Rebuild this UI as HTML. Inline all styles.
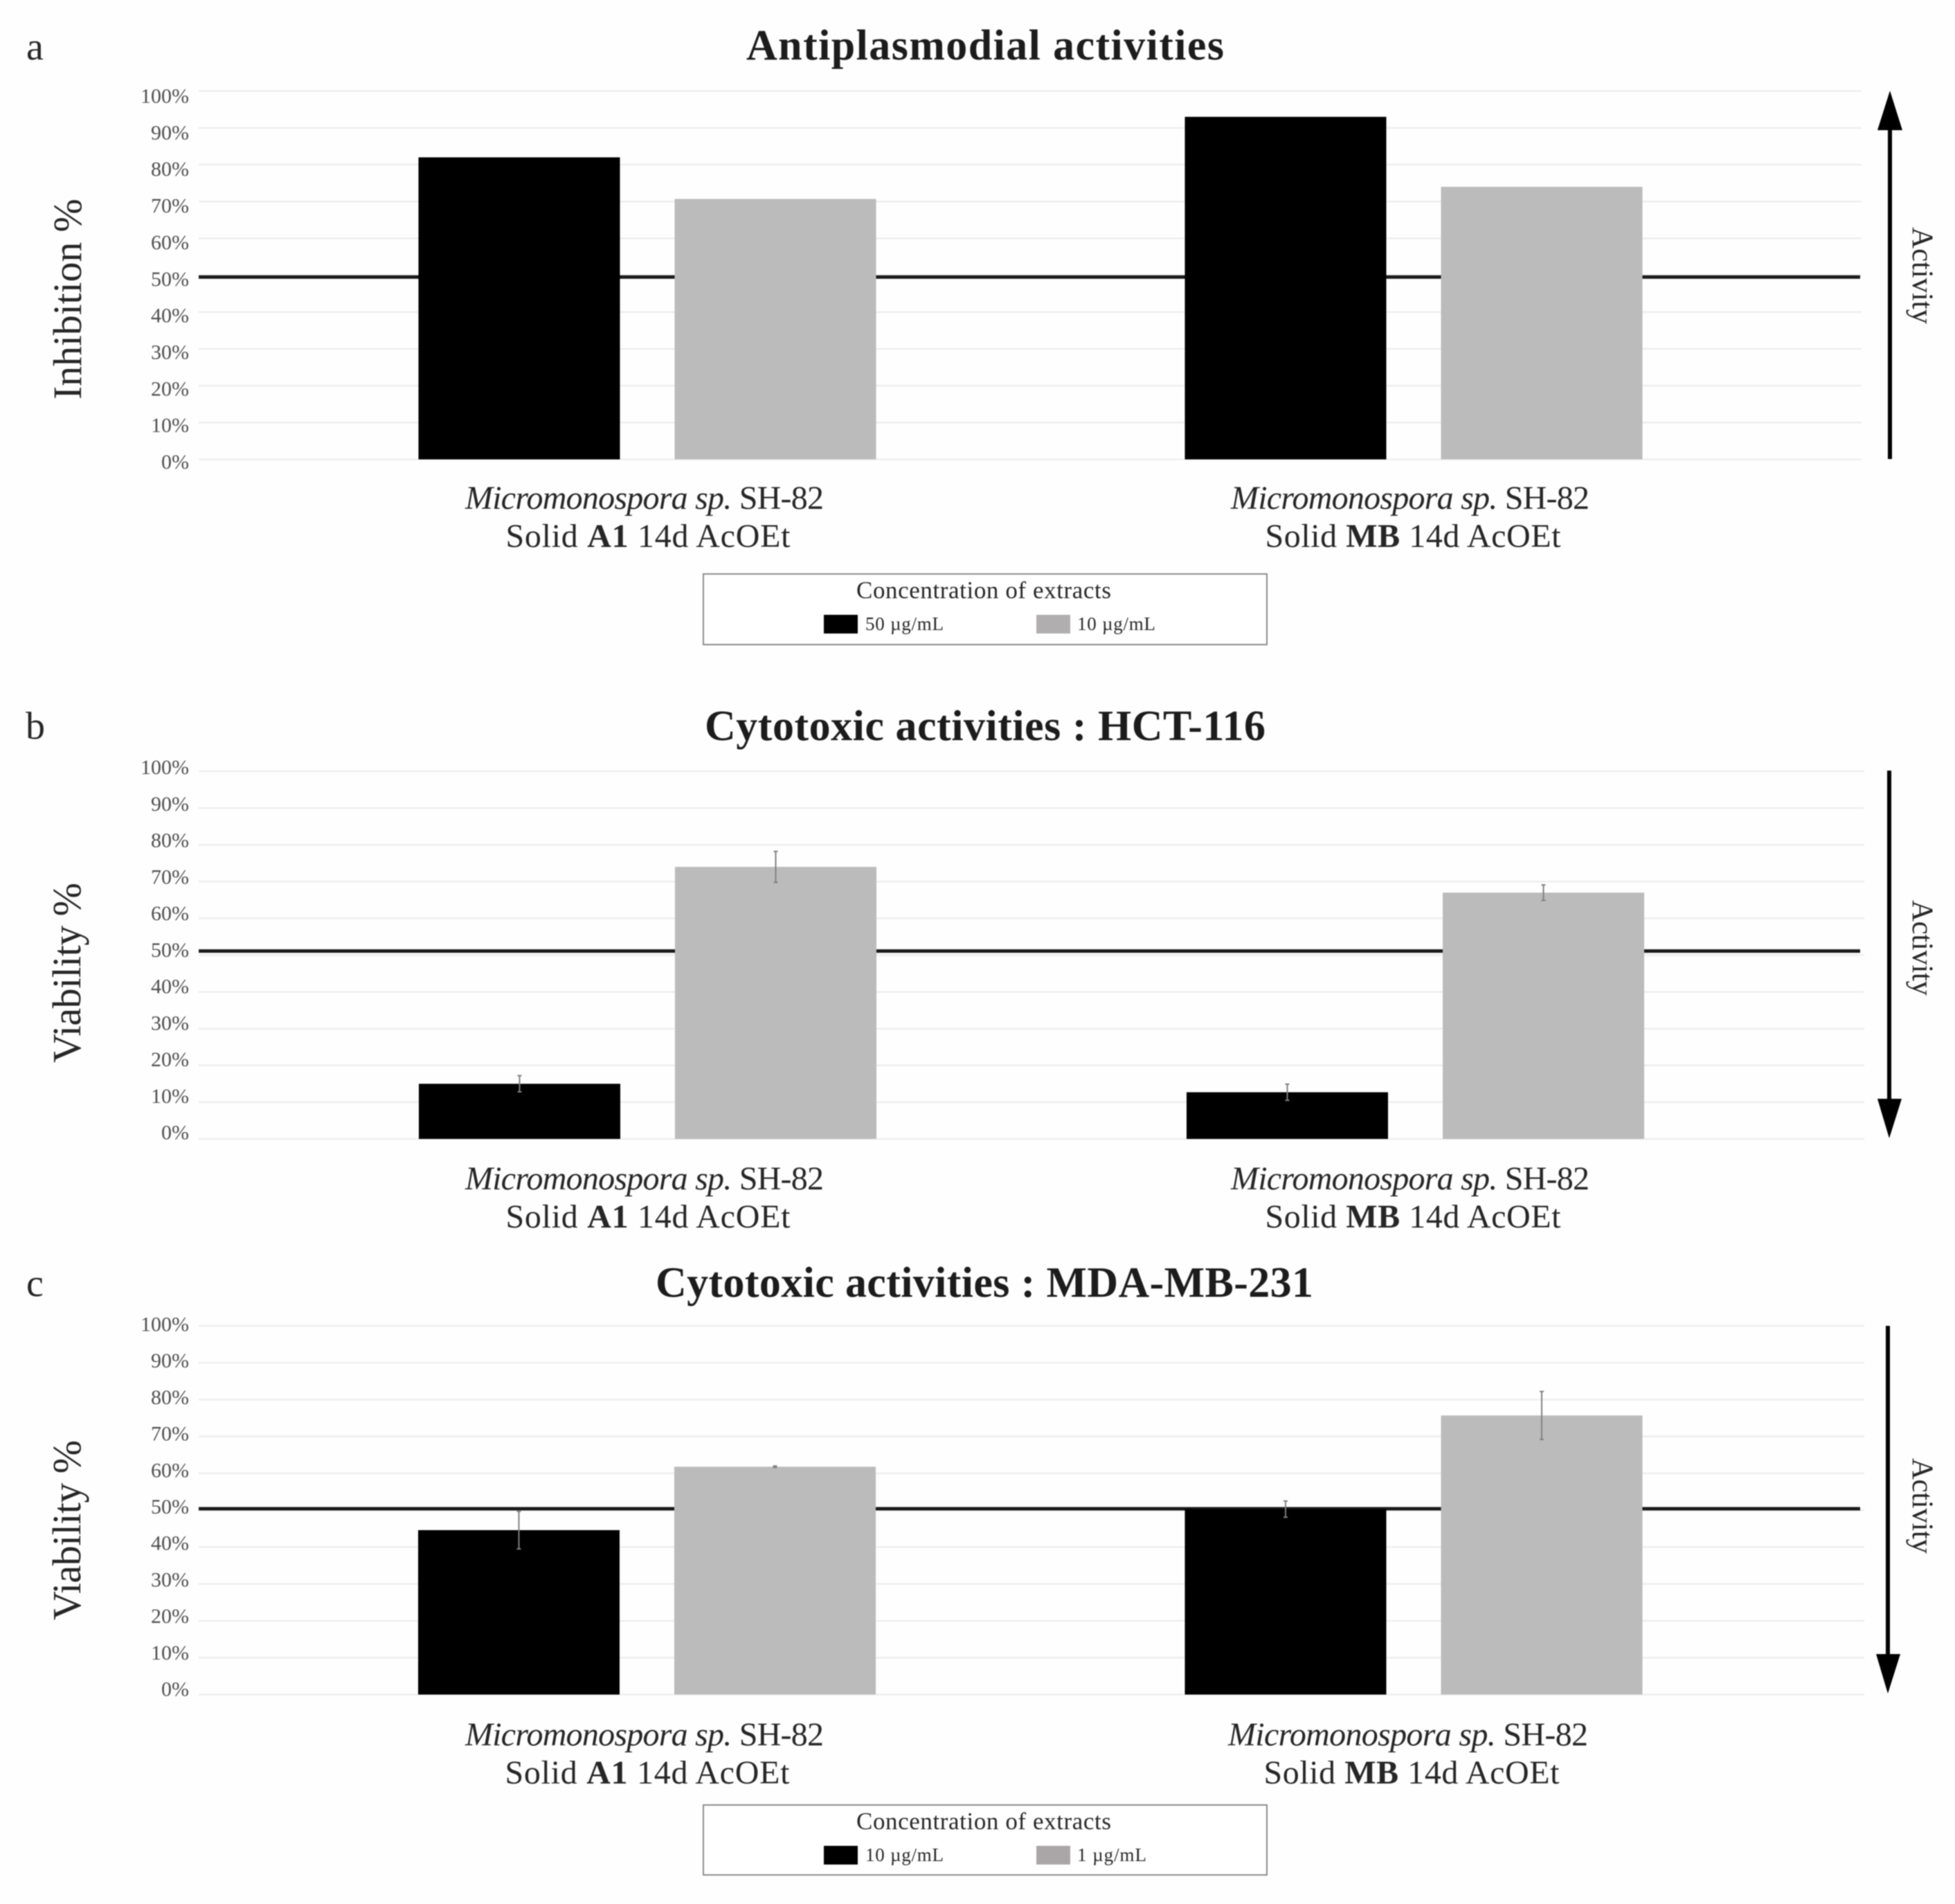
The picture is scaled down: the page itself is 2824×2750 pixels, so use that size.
<!DOCTYPE html>
<html lang="en">
<head>
<meta charset="utf-8">
<title>Antiplasmodial and cytotoxic activities</title>
<style>
html,body{margin:0;padding:0;background:#fefefe;}
body{width:2824px;height:2750px;overflow:hidden;}
svg{display:block;filter:blur(0.8px);}
text{font-family:"Liberation Serif","DejaVu Serif",serif;fill:#262626;}
.title{font-size:62px;font-weight:bold;text-anchor:middle;fill:#1c1c1c;}
.letter{font-size:56px;}
.ytitle{font-size:58px;text-anchor:middle;}
.xlabel{font-size:48px;text-anchor:middle;}
.activity{font-size:43px;text-anchor:middle;}
.legend-title{font-size:35px;text-anchor:middle;}
.legend-label{font-size:27px;}
.tick{font-size:30px;text-anchor:end;fill:#4d4d4d;}
</style>
</head>
<body>
<svg id="figure" xmlns="http://www.w3.org/2000/svg" width="2824" height="2750" viewBox="0 0 2824 2750">
  <rect width="2824" height="2750" fill="#fefefe"/>
  <g id="panel-a"></g>
  <g id="panel-b"></g>
  <g id="panel-c"></g>

  <text class="letter" x="38" y="86">a</text>
  <text class="letter" x="37" y="1067">b</text>
  <text class="letter" x="38" y="1872">c</text>

  <text class="title" x="1423" y="86" textLength="690">Antiplasmodial activities</text>
  <text class="title" x="1423" y="1069" textLength="810">Cytotoxic activities : HCT-116</text>
  <text class="title" x="1422" y="1873" textLength="950">Cytotoxic activities : MDA-MB-231</text>

  <text class="ytitle" transform="translate(117,432) rotate(-90)" textLength="290">Inhibition %</text>
  <text class="ytitle" transform="translate(116,1405) rotate(-90)" textLength="260">Viability %</text>
  <text class="ytitle" transform="translate(116,2210) rotate(-90)" textLength="260">Viability %</text>

  <text class="xlabel" x="931" y="735" textLength="518"><tspan font-style="italic">Micromonospora sp.</tspan> SH-82</text>
  <text class="xlabel" x="936" y="790" textLength="411">Solid <tspan font-weight="bold">A1</tspan> 14d AcOEt</text>
  <text class="xlabel" x="2037" y="735" textLength="518"><tspan font-style="italic">Micromonospora sp.</tspan> SH-82</text>
  <text class="xlabel" x="2041" y="790" textLength="427">Solid <tspan font-weight="bold">MB</tspan> 14d AcOEt</text>

  <text class="xlabel" x="931" y="1718" textLength="518"><tspan font-style="italic">Micromonospora sp.</tspan> SH-82</text>
  <text class="xlabel" x="936" y="1773" textLength="411">Solid <tspan font-weight="bold">A1</tspan> 14d AcOEt</text>
  <text class="xlabel" x="2037" y="1718" textLength="518"><tspan font-style="italic">Micromonospora sp.</tspan> SH-82</text>
  <text class="xlabel" x="2041" y="1773" textLength="427">Solid <tspan font-weight="bold">MB</tspan> 14d AcOEt</text>

  <text class="xlabel" x="931" y="2521" textLength="518"><tspan font-style="italic">Micromonospora sp.</tspan> SH-82</text>
  <text class="xlabel" x="935" y="2576" textLength="411">Solid <tspan font-weight="bold">A1</tspan> 14d AcOEt</text>
  <text class="xlabel" x="2034" y="2521" textLength="520"><tspan font-style="italic">Micromonospora sp.</tspan> SH-82</text>
  <text class="xlabel" x="2039" y="2576" textLength="427">Solid <tspan font-weight="bold">MB</tspan> 14d AcOEt</text>

  <g>
    <rect x="2727" y="185" width="6" height="478" fill="#000"/>
    <polygon points="2730,131 2748,188 2712,188" fill="#000"/>
  </g>
  <g>
    <rect x="2726" y="1113" width="6" height="478" fill="#000"/>
    <polygon points="2712,1587 2747,1587 2729,1644" fill="#000"/>
  </g>
  <g>
    <rect x="2724" y="1915" width="6" height="478" fill="#000"/>
    <polygon points="2710,2389 2745,2389 2727,2446" fill="#000"/>
  </g>
  <text class="activity" transform="translate(2763,398) rotate(90)" textLength="140">Activity</text>
  <text class="activity" transform="translate(2763,1369) rotate(90)" textLength="138">Activity</text>
  <text class="activity" transform="translate(2763,2175) rotate(90)" textLength="138">Activity</text>

  <g>
    <rect x="1016" y="829" width="814" height="102" fill="#fff" stroke="#8a8a8a" stroke-width="2"/>
    <text class="legend-title" x="1421" y="864" textLength="368">Concentration of extracts</text>
    <rect x="1190" y="888" width="49" height="27" fill="#000"/>
    <text class="legend-label" x="1250" y="910" textLength="113">50 µg/mL</text>
    <rect x="1497" y="888" width="49" height="27" fill="#b0aeaf"/>
    <text class="legend-label" x="1556" y="910" textLength="113">10 µg/mL</text>
  </g>
  <g>
    <rect x="1016" y="2607" width="814" height="101" fill="#fff" stroke="#8a8a8a" stroke-width="2"/>
    <text class="legend-title" x="1421" y="2642" textLength="368">Concentration of extracts</text>
    <rect x="1190" y="2666" width="49" height="27" fill="#000"/>
    <text class="legend-label" x="1250" y="2688" textLength="113">10 µg/mL</text>
    <rect x="1497" y="2666" width="49" height="27" fill="#aaa6a8"/>
    <text class="legend-label" x="1556" y="2688" textLength="100">1 µg/mL</text>
  </g>
</svg>
<script>
// Chart values
const categories = ['A1', 'MB'];
const tickValues = [0, 10, 20, 30, 40, 50, 60, 70, 80, 90, 100];
const tickLabels = ['0%', '10%', '20%', '30%', '40%', '50%', '60%', '70%', '80%', '90%', '100%'];

const antiplasmodialHigh = [82, 93];
const antiplasmodialLow = [70.7, 74];
const antiplasmodialThreshold = 49.5;

const hctHigh = [15, 12.7];
const hctLow = [74, 67];
const hctHighError = [2.2, 2.2];
const hctLowError = [4.2, 2.1];
const hctThreshold = 51.1;

const mdaHigh = [44.6, 50.3];
const mdaLow = [61.8, 75.7];
const mdaHighError = [5.1, 2.2];
const mdaLowError = [0.2, 6.5];
const mdaThreshold = 50.4;

const NS = 'http://www.w3.org/2000/svg';

function make(parent, tag, attrs) {
  const node = document.createElementNS(NS, tag);
  Object.keys(attrs).forEach(function (k) { node.setAttribute(k, attrs[k]); });
  parent.appendChild(node);
  return node;
}

function drawPanel(cfg) {
  const root = document.getElementById(cfg.id);
  const yScale = function (v) { return cfg.y0 + (cfg.y100 - cfg.y0) * v / 100; };
  const xScale = function (i) { return cfg.xFirst + cfg.xStep * i; };
  const labelScale = function (v) { return yScale(v) + cfg.tickDy0 + (cfg.tickDy100 - cfg.tickDy0) * v / 100; };

  tickValues.forEach(function (v, i) {
    const grid = make(root, 'line', {x1: cfg.gridLeft, x2: cfg.gridRight, y1: yScale(v), y2: yScale(v), stroke: '#eeeeee', 'stroke-width': 2.5});
    
    
    const label = make(root, 'text', {class: 'tick', x: 273, y: labelScale(v)});
    label.textContent = tickLabels[i];
    
    
  });

  const ref = make(root, 'line', {x1: cfg.gridLeft, x2: 2687, y1: yScale(cfg.threshold), y2: yScale(cfg.threshold), stroke: '#1a1a1a', 'stroke-width': 5});
  
  

  const barWidth = 291;
  const offset = 185;
  categories.forEach(function (cat, i) {
    [[cfg.high, cfg.highError, -1, '#000', 'high'], [cfg.low, cfg.lowError, 1, '#bbbbbb', 'low']].forEach(function (s) {
      const cx = xScale(i) + s[2] * offset;
      const top = yScale(s[0][i]);
      const bar = make(root, 'rect', {x: cx - barWidth / 2, y: top, width: barWidth, height: yScale(0) - top, fill: s[3]});
      
      
      if (s[1]) {
        const up = yScale(s[0][i] + s[1][i]);
        const down = yScale(s[0][i] - s[1][i]);
        const err = make(root, 'path', {d: 'M' + (cx - 3) + ' ' + up + 'H' + (cx + 3) + 'M' + cx + ' ' + up + 'V' + down + 'M' + (cx - 3) + ' ' + down + 'H' + (cx + 3), stroke: '#808080', 'stroke-width': 2, fill: 'none'});
        
        
      }
    });
  });
}

drawPanel({id: 'panel-a', y0: 663.5, y100: 131.5, gridLeft: 287, gridRight: 2689, xFirst: 935, xStep: 1107, tickDy0: 13.5, tickDy100: 17, threshold: antiplasmodialThreshold, high: antiplasmodialHigh, low: antiplasmodialLow});
drawPanel({id: 'panel-b', y0: 1645, y100: 1114, gridLeft: 287, gridRight: 2693, xFirst: 935.5, xStep: 1109, tickDy0: 0.5, tickDy100: 4, threshold: hctThreshold, high: hctHigh, low: hctLow, highError: hctHighError, lowError: hctLowError});
drawPanel({id: 'panel-c', y0: 2447.5, y100: 1915, gridLeft: 287, gridRight: 2693, xFirst: 934.5, xStep: 1107.5, tickDy0: 2, tickDy100: 7.5, threshold: mdaThreshold, high: mdaHigh, low: mdaLow, highError: mdaHighError, lowError: mdaLowError});
</script>
</body>
</html>
